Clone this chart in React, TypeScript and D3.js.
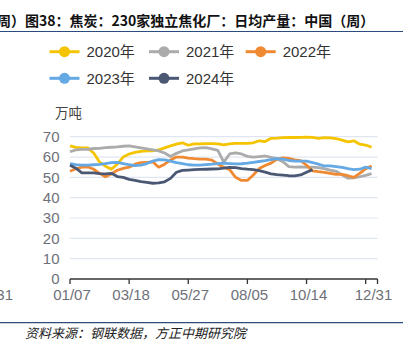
import React from "react";
import * as d3 from "d3";

const years = ["2020年", "2021年", "2022年", "2023年", "2024年"];
const colors = ["#F5C400", "#ABABAB", "#F08A32", "#64A8E4", "#4A5874"];

const s2020 = [65.5, 64.8, 64.5, 64.5, 62, 57.5, 55.5, 54, 56.5, 60, 61.5, 62.3, 62.8, 63, 63.1, 63.5, 64.5, 65.5, 66.3, 67, 65.8, 66.5, 66.5, 66.6, 66.6, 66.5, 66, 66.5, 66.7, 66.7, 66.7, 67, 68, 67.6, 69.2, 69.3, 69.5, 69.6, 69.6, 69.7, 69.8, 69.7, 69.2, 69.5, 69.4, 69, 68.3, 67.5, 68, 66.3, 65.9, 64.8];
const s2021 = [62.6, 63.5, 63.8, 63.8, 64.2, 64.3, 64.6, 64.8, 65, 65.3, 65.5, 65, 64.5, 64, 63.5, 63, 62, 60.3, 61.8, 63, 63.5, 64, 64.5, 64.6, 64, 63.3, 57.5, 61.5, 62, 61.5, 60.3, 59.9, 60.2, 60.5, 59.8, 59.2, 57.7, 55.3, 55, 55.2, 55, 55, 54.8, 54.3, 53.6, 53, 51.3, 49.6, 49.7, 50.3, 51, 51.8];
const s2022 = [53, 54.2, 55, 55.2, 54, 52, 50.3, 51.7, 53.5, 54.4, 55, 56.5, 57.2, 57.4, 57.6, 55, 56.5, 58.5, 60, 60, 59.5, 59.2, 59, 59, 58.5, 56.6, 55, 53.8, 50, 48.5, 48.5, 51.2, 54.3, 55.8, 57, 59, 59.6, 59.3, 58.6, 58.2, 56, 53.2, 52.8, 52.5, 52, 51.5, 51.5, 50.8, 50, 52, 54.3, 55.6];
const s2023 = [56.8, 56.3, 56, 56, 56.2, 56.4, 56.8, 57.2, 57.4, 56.8, 56.2, 55.8, 56, 56.8, 58, 58.7, 58.6, 58, 57.3, 56.8, 56.2, 56, 56, 56.3, 56.5, 56.8, 57, 56.8, 56.6, 56.7, 57, 57.4, 57.8, 58.2, 58.7, 59.2, 59, 58.3, 58, 58, 58, 57.3, 56.5, 55.6, 55.6, 55.3, 54.9, 54.3, 53.8, 54, 55, 54.3];
const s2024 = [56, 54.5, 52.2, 52.2, 52.2, 51.8, 51.7, 52, 50.4, 50, 49, 48.5, 47.9, 47.5, 47.1, 47.3, 47.8, 49.5, 52.5, 53.4, 53.6, 53.8, 53.9, 54, 54.1, 54.2, 54.5, 54.9, 54.8, 54.3, 54, 53.8, 53.3, 52.6, 51.7, 51.3, 51.1, 50.8, 50.7, 51.2, 52.5, 53.8];
const series = [s2020, s2021, s2022, s2023, s2024];

const xTickIdx = [0, 10, 20, 30, 40, 50, 52];
const xTickLabels = ["01/07", "03/18", "05/27", "08/05", "10/14", "", "12/31"];
const yTicks = [0, 10, 20, 30, 40, 50, 60, 70];

const title = "周）图38：焦炭：230家独立焦化厂：日均产量：中国（周）";
const unit = "万吨";
const source = "资料来源：钢联数据，方正中期研究院";

const FONT = "'Liberation Sans', 'Noto Sans CJK SC', sans-serif";
const CJK = "'Noto Sans CJK SC', sans-serif";

export default function App() {
  const x = d3.scaleLinear().domain([0, 52]).range([70, 377.5]);
  const y = d3.scaleLinear().domain([0, 70]).range([279, 136.7]);
  const line = d3
    .line<number>()
    .x((_, i) => x(i))
    .y((d) => y(d));

  const legendPos = [
    [49.5, 51.7],
    [149, 51.7],
    [245.7, 51.7],
    [49.5, 78.3],
    [149, 78.3],
  ];

  return (
    <svg
      width={419}
      height={349}
      style={{ position: "absolute", left: 0, top: 0, background: "#fff" }}
    >
      <text x={-3} y={26} fontFamily={CJK} fontSize={14} fontWeight={700} fill="#111">
        {title}
      </text>
      <line x1={0} x2={403} y1={31.5} y2={31.5} stroke="#2B4C7E" strokeWidth={1.2} />

      {years.map((yr, i) => {
        const [lx, ly] = legendPos[i];
        return (
          <g key={yr}>
            <line x1={lx} x2={lx + 30} y1={ly} y2={ly} stroke={colors[i]} strokeWidth={3} />
            <circle cx={lx + 15} cy={ly} r={5.5} fill={colors[i]} />
            <text x={lx + 37} y={ly + 5.3} fontFamily={FONT} fontSize={15} fill="#333">
              {yr}
            </text>
          </g>
        );
      })}

      <text x={55} y={118} fontFamily={CJK} fontSize={13.5} fill="#444">
        {unit}
      </text>

      {yTicks.map((t) => (
        <g key={t}>
          {t > 0 && (
            <line x1={x(0)} x2={x(52)} y1={y(t)} y2={y(t)} stroke="#E0E6F1" strokeWidth={1.2} />
          )}
          <text
            x={59.5}
            y={y(t) + 5.3}
            textAnchor="end"
            fontFamily={FONT}
            fontSize={15}
            fill="#6E7079"
          >
            {t}
          </text>
        </g>
      ))}

      {series.map((s, i) => (
        <path
          key={years[i]}
          d={line(s) || ""}
          fill="none"
          stroke={colors[i]}
          strokeWidth={2.8}
          strokeLinejoin="round"
        />
      ))}

      <line x1={x(0)} x2={x(52)} y1={y(0)} y2={y(0)} stroke="#333" strokeWidth={1.3} />
      {xTickIdx.map((t, i) => (
        <g key={t}>
          <line x1={x(t)} x2={x(t)} y1={y(0)} y2={y(0) + 5} stroke="#333" strokeWidth={1.3} />
          {xTickLabels[i] && (
            <text
              x={x(t) + (t === 52 ? -4 : 2)}
              y={y(0) + 21}
              textAnchor="middle"
              fontFamily={FONT}
              fontSize={15}
              fill="#6E7079"
            >
              {xTickLabels[i]}
            </text>
          )}
        </g>
      ))}
      <text x={13} y={y(0) + 21} textAnchor="end" fontFamily={FONT} fontSize={15} fill="#6E7079">
        12/31
      </text>

      <line x1={0} x2={403} y1={322.7} y2={322.7} stroke="#2B4C7E" strokeWidth={1.2} />
      <text x={25} y={337.5} fontFamily={CJK} fontSize={13} fontStyle="italic" fill="#222">
        {source}
      </text>
    </svg>
  );
}
